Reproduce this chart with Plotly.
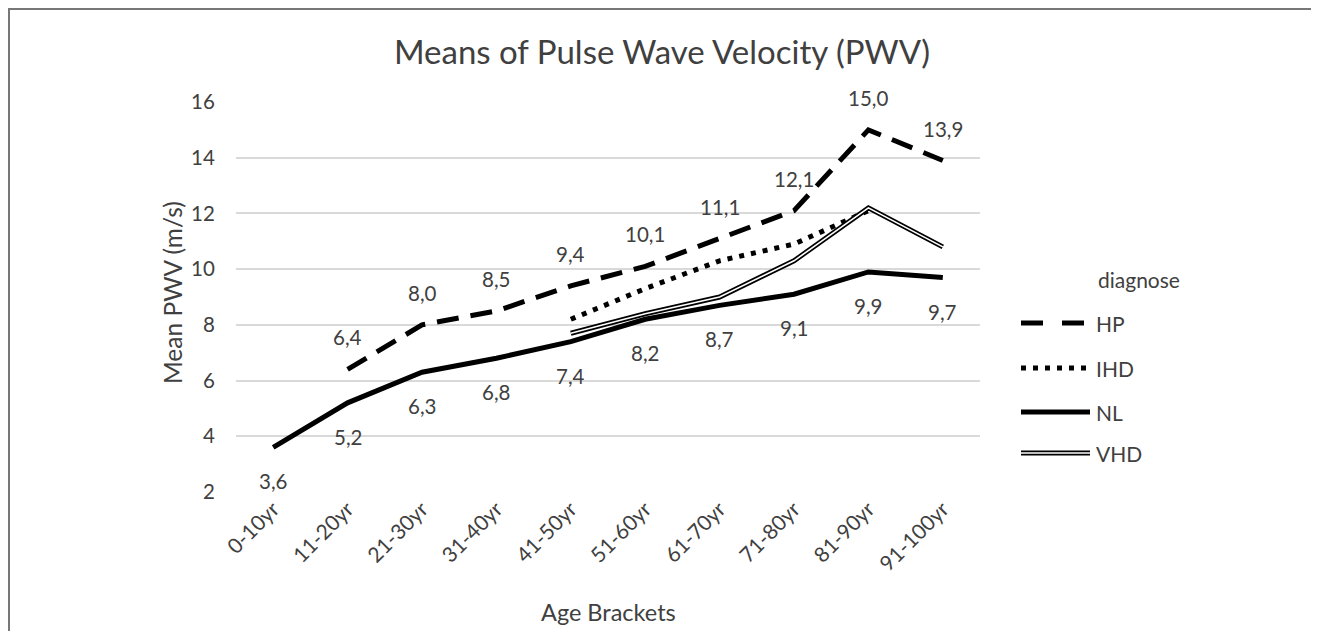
import plotly.graph_objects as go

categories = ["0-10yr", "11-20yr", "21-30yr", "31-40yr", "41-50yr",
              "51-60yr", "61-70yr", "71-80yr", "81-90yr", "91-100yr"]
hp = [None, 6.4, 8.0, 8.5, 9.4, 10.1, 11.1, 12.1, 15.0, 13.9]
ihd = [None, None, None, None, 8.2, 9.3, 10.3, 10.9, 12.1, None]
nl = [3.6, 5.2, 6.3, 6.8, 7.4, 8.2, 8.7, 9.1, 9.9, 9.7]
vhd = [None, None, None, None, 7.7, 8.4, 9.0, 10.3, 12.2, 10.8]
y_ticks = [2, 4, 6, 8, 10, 12, 14, 16]

FONT = "Lato"
TXT = "#404040"

# page has an 8px body margin; work in screen pixels and convert
OFF = 8
SW, SH = 1319, 631
W, H = SW - OFF, SH - OFF
PL, PR, PT, PB = 236, 980, 102, 492          # plot area in screen px
L, T = PL - OFF, PT - OFF
R, B = SW - PR, SH - PB
PW, PH = W - L - R, H - T - B


def px_x(x):
    return (x - PL) / PW


def px_y(y):
    return (PB - y) / PH


fig = go.Figure()

fig.add_trace(go.Scatter(x=categories, y=hp, mode="lines", name="HP",
                         line=dict(color="black", width=5, dash="22px,12px")))
fig.add_trace(go.Scatter(x=categories, y=ihd, mode="lines", name="IHD",
                         line=dict(color="black", width=5, dash="5px,7px")))
fig.add_trace(go.Scatter(x=categories, y=nl, mode="lines", name="NL",
                         line=dict(color="black", width=5)))
fig.add_trace(go.Scatter(x=categories, y=vhd, mode="lines", name="VHD",
                         line=dict(color="black", width=5)))
fig.add_trace(go.Scatter(x=categories, y=vhd, mode="lines", name="VHD",
                         line=dict(color="white", width=1.6), hoverinfo="skip"))


def fmt(v):
    return f"{v:.1f}".replace(".", ",")


LBL = dict(family=FONT, size=20.5, color=TXT)
annotations = []
for c, v in zip(categories, hp):
    if v is not None:
        annotations.append(dict(x=c, y=v, xref="x", yref="y", text=fmt(v),
                                showarrow=False, yshift=32, font=LBL,
                                xanchor="center", yanchor="middle"))
for c, v in zip(categories, nl):
    if v is not None:
        annotations.append(dict(x=c, y=v, xref="x", yref="y", text=fmt(v),
                                showarrow=False, yshift=-34, font=LBL,
                                xanchor="center", yanchor="middle"))

# axis titles
annotations.append(dict(x=px_x(172), y=px_y(293), xref="paper", yref="paper",
                        text="Mean PWV (m/s)", textangle=-90, showarrow=False,
                        xanchor="center", yanchor="middle",
                        font=dict(family=FONT, size=24.5, color=TXT)))
annotations.append(dict(x=px_x(608), y=px_y(612), xref="paper", yref="paper",
                        text="Age Brackets", showarrow=False,
                        xanchor="center", yanchor="middle",
                        font=dict(family=FONT, size=23.5, color=TXT)))

# legend (manual)
legend_items = ["HP", "IHD", "NL", "VHD"]
legend_y = [323, 368, 412, 453]
LEG = dict(family=FONT, size=21, color=TXT)
annotations.append(dict(x=px_x(1096), y=px_y(279), xref="paper", yref="paper",
                        text="diagnose", showarrow=False, xanchor="left",
                        yanchor="middle", font=LEG))
shapes = []
x0, x1 = px_x(1021), px_x(1090)
styles = [dict(color="black", width=5, dash="22px,19px"),
          dict(color="black", width=5, dash="5px,7px"),
          dict(color="black", width=5),
          dict(color="black", width=5)]
for name, yy, st in zip(legend_items, legend_y, styles):
    shapes.append(dict(type="line", xref="paper", yref="paper",
                       x0=x0, x1=x1, y0=px_y(yy), y1=px_y(yy), line=st))
    annotations.append(dict(x=px_x(1094), y=px_y(yy), xref="paper", yref="paper",
                            text=name, showarrow=False, xanchor="left",
                            yanchor="middle", font=LEG))
shapes.append(dict(type="line", xref="paper", yref="paper",
                   x0=x0, x1=x1, y0=px_y(453), y1=px_y(453),
                   line=dict(color="white", width=1.6)))

# outer border (left and top)
shapes.append(dict(type="line", xref="paper", yref="paper",
                   x0=px_x(OFF + 1), x1=px_x(OFF + 1), y0=px_y(OFF + 1), y1=px_y(SH + 10),
                   line=dict(color="#777777", width=2)))
shapes.append(dict(type="line", xref="paper", yref="paper",
                   x0=px_x(OFF), x1=px_x(SW + 10), y0=px_y(OFF + 1), y1=px_y(OFF + 1),
                   line=dict(color="#777777", width=2)))

fig.update_layout(
    width=W, height=H,
    margin=dict(l=L, r=R, t=T, b=B, autoexpand=False),
    paper_bgcolor="white", plot_bgcolor="white",
    title=dict(text="Means of Pulse Wave Velocity (PWV)", xref="container",
               x=(662 - OFF) / W, xanchor="center",
               y=1 - (52 - OFF) / H, yanchor="middle",
               font=dict(family=FONT, size=33, color=TXT)),
    xaxis=dict(type="category", categoryorder="array", categoryarray=categories,
               tickangle=-45, showgrid=False, showline=False, zeroline=False,
               ticks="", tickfont=dict(family=FONT, size=21, color=TXT),
               range=[-0.5, len(categories) - 0.5]),
    yaxis=dict(range=[2, 16], tickvals=y_ticks, showgrid=True,
               gridcolor="#d9d9d9", gridwidth=1.5, zeroline=False,
               showline=False, ticks="outside", ticklen=16,
               tickcolor="rgba(0,0,0,0)",
               tickfont=dict(family=FONT, size=20.5, color=TXT)),
    annotations=annotations,
    shapes=shapes,
    showlegend=False,
)

fig.write_html("out.html")
